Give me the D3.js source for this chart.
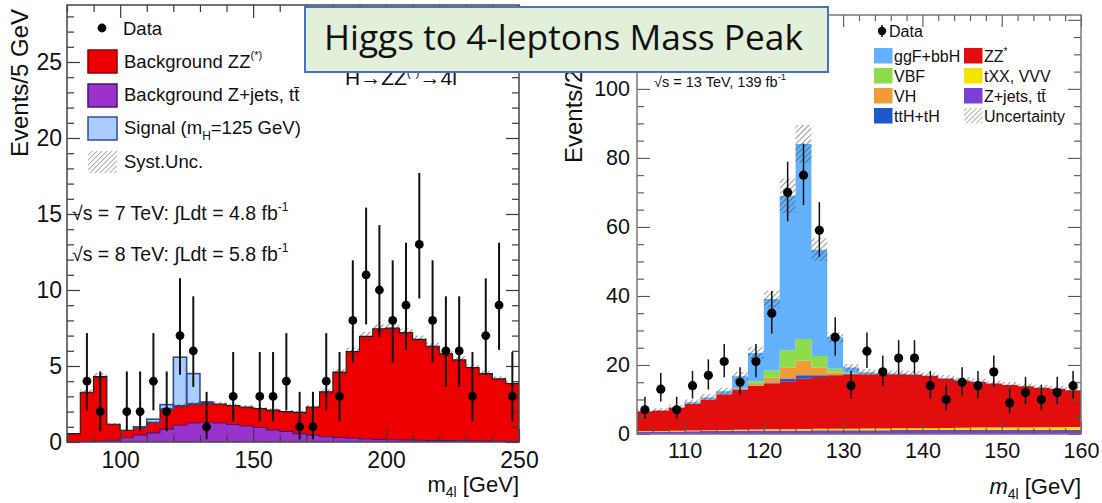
<!DOCTYPE html>
<html><head><meta charset="utf-8">
<script src="https://cdn.jsdelivr.net/npm/d3@7"></script>
<style>html,body{margin:0;padding:0;background:#fff;} svg{display:block;}</style>
</head><body>
<svg id="c" width="1102" height="503"></svg>
<script>
// ---------------- DATA ----------------
// Left panel: 5 GeV bins from 80 to 250
const leftBinLow = d3.range(80, 250, 5);
const leftZjets = [0.02,0.03,0.05,0.12,0.28,0.45,0.6,0.85,1.1,1.25,1.3,1.25,1.15,1.05,0.95,0.8,0.7,0.55,0.45,0.35,0.3,0.25,0.2,0.17,0.15,0.13,0.12,0.1,0.09,0.08,0.07,0.06,0.05,0.05];
const leftZZ = [0.53,3.24,4.25,1.05,0.49,0.5,0.68,1.31,1.28,1.25,1.25,1.25,1.25,1.25,1.25,1.3,1.3,1.4,1.85,2.95,4.3,5.7,6.75,7.28,7.35,7.07,6.63,6.2,5.71,5.32,4.83,4.44,4.1,3.8];
const leftSignal = [0,0,0,0,0,0.05,0.22,0.3,3.2,2.0,0.08,0,0,0,0,0,0,0,0,0,0,0,0,0,0,0,0,0,0,0,0,0,0,0];
const leftUnc = [0.05,0.2,0.25,0.08,0.06,0.07,0.08,0.12,0.13,0.14,0.14,0.14,0.13,0.13,0.12,0.12,0.11,0.11,0.13,0.17,0.22,0.26,0.28,0.28,0.28,0.27,0.26,0.25,0.23,0.22,0.2,0.19,0.18,0.17];
const leftData = [null,4,2,null,2,2,4,2,7,6,1,null,3,null,3,3,4,1,1,4,3,8,11,10,8,9,13,8,6,6,3,7,9,3];
const leftXTicks = [100,150,200,250];
const leftYTicks = [0,5,10,15,20,25];

// Right panel: 2 GeV bins from 104 to 160
const rightBinLow = d3.range(104, 160, 2);
const rightZjets = [0.7,0.7,0.75,0.8,0.85,0.9,0.95,1.0,1.0,1.05,1.05,1.1,1.1,1.1,1.1,1.1,1.15,1.15,1.15,1.15,1.2,1.2,1.2,1.2,1.2,1.2,1.2,1.2];
const rightTXX = [0.15,0.15,0.2,0.2,0.25,0.25,0.3,0.3,0.35,0.35,0.4,0.4,0.45,0.45,0.5,0.5,0.5,0.55,0.55,0.6,0.6,0.65,0.65,0.7,0.7,0.75,0.75,0.8];
const rightZZ = [5.75,5.95,6.65,7.8,8.9,10.35,11.65,12.6,13.25,13.9,14.55,15.0,15.45,15.75,15.7,15.7,15.65,15.5,15.1,14.35,13.7,13.25,12.75,12.3,11.9,11.45,11.15,10.7];
const rightTTH = [0,0,0,0,0,0,0.05,0.1,0.3,0.8,1.0,0.5,0.1,0.05,0,0,0,0,0,0,0,0,0,0,0,0,0,0];
const rightVH = [0,0,0,0,0,0.05,0.1,0.5,1.4,3.1,4.2,2.2,0.7,0.1,0.05,0,0,0,0,0,0,0,0,0,0,0,0,0];
const rightVBF = [0,0,0,0,0,0.05,0.15,0.8,2.1,5.1,6.3,3.4,1.1,0.2,0.05,0,0,0,0,0,0,0,0,0,0,0,0,0];
const rightGGF = [0.05,0.1,0.2,0.4,0.6,0.8,3.5,8.2,20.7,44.7,56.5,30.8,9.1,1.6,0.5,0.3,0.2,0.2,0.15,0.1,0.1,0.1,0.05,0.05,0.05,0.05,0.05,0.05];
const rightUnc = [0.6,0.6,0.7,0.8,0.9,1.0,1.3,1.8,2.5,5.0,5.5,3.3,1.5,1.0,0.9,0.9,0.9,0.9,0.9,0.9,0.85,0.85,0.8,0.8,0.8,0.8,0.8,0.8];
const rightData = [7,13,7,14,17,21,15,21,35,70,75,59,28,14,24,18,22,22,14,10,15,14,18,9,12,10,12,14];
const rightXTicks = [110,120,130,140,150,160];
const rightYTicks = [0,20,40,60,80,100,120];
const rightYLabels = [0,20,40,60,80,100];

// Poisson (Garwood 68%) intervals for small counts
const garwoodLo = [0,0.173,0.708,1.367,2.086,2.840,3.620,4.419,5.232,6.057,6.891,7.734,8.585,9.441];
const garwoodHi = [1.841,3.300,4.638,5.918,7.163,8.382,9.584,10.77,11.95,13.11,14.27,15.42,16.56,17.70];
function errLo(n){ return n < garwoodLo.length ? garwoodLo[n] : n - Math.sqrt(n); }
function errHi(n){ return n < garwoodHi.length ? garwoodHi[n] : n + Math.sqrt(n) + 0.5; }

// ---------------- DRAW ----------------
const FONT = "'Liberation Sans', Arial, Helvetica, sans-serif";
const svg = d3.select("#c").style("font-family", FONT);
svg.append("rect").attr("width",1102).attr("height",503).attr("fill","#fff");

const defs = svg.append("defs");
function hatch(id, color, sw, size){
  const p = defs.append("pattern").attr("id", id).attr("patternUnits","userSpaceOnUse")
    .attr("width", size).attr("height", size).attr("patternTransform","rotate(45)");
  p.append("line").attr("x1",0).attr("y1",0).attr("x2",0).attr("y2",size)
    .attr("stroke", color).attr("stroke-width", sw);
}
hatch("hatchL", "#2a2a2a", 1.1, 4);
hatch("hatchR", "#333", 1.0, 4);
hatch("hatchLeg", "#666", 1.0, 3.5);

function stepPoints(lows, w, s){ // s: array of [y0,y1]
  const pts = [];
  lows.forEach((lo, i) => {
    pts.push({x: lo, y0: s[i][0], y1: s[i][1]});
    pts.push({x: lo + w, y0: s[i][0], y1: s[i][1]});
  });
  return pts;
}

// ---------- LEFT PANEL ----------
const xL = d3.scaleLinear().domain([80, 250]).range([67, 519]);
const yL = d3.scaleLinear().domain([0, 28.75]).range([442, 5]);
const gL = svg.append("g");

const rowsL = leftBinLow.map((lo, i) => ({zjets: leftZjets[i], zz: leftZZ[i], signal: leftSignal[i]}));
const stackL = d3.stack().keys(["zjets","zz","signal"])(rowsL);
const colL = {zjets: "#9a33cc", zz: "#ee0000", signal: "#aaccff"};
const lineColL = {zjets: "#4a1470", zz: "#1a1a1a", signal: "#2c4f94"};
const areaL = d3.area().x(d => xL(d.x)).y0(d => yL(d.y0)).y1(d => yL(d.y1));
const lineL = d3.line().x(d => xL(d.x)).y(d => yL(d.y1));

stackL.forEach(s => {
  const pts = stepPoints(leftBinLow, 5, s.map(d => [d[0], d[1]]));
  gL.append("path").attr("d", areaL(pts)).attr("fill", colL[s.key]);
});
["zjets","zz"].forEach(k => {
  const s = stackL.find(t => t.key === k);
  const pts = stepPoints(leftBinLow, 5, s.map(d => [d[0], d[1]]));
  gL.append("path").attr("d", lineL(pts)).attr("fill","none").attr("stroke", lineColL[k]).attr("stroke-width", 1.1);
});
const sigS = stackL.find(t => t.key === "signal");
leftBinLow.forEach((lo, i) => {
  if (leftSignal[i] > 0.03) {
    gL.append("rect").attr("x", xL(lo)).attr("width", xL(lo+5)-xL(lo))
      .attr("y", yL(sigS[i][1])).attr("height", yL(sigS[i][0]) - yL(sigS[i][1]))
      .attr("fill","none").attr("stroke","#2c4f94").attr("stroke-width",1.6);
  }
});
const bgL = leftBinLow.map((lo,i) => leftZjets[i] + leftZZ[i]);
const bandL = stepPoints(leftBinLow, 5, bgL.map((v,i) => [Math.max(0, v - leftUnc[i]), v + leftUnc[i]]));
gL.append("path").attr("d", areaL(bandL)).attr("fill","url(#hatchL)");

function styleAxis(g, size){
  g.select(".domain").remove();
  g.selectAll(".tick line").attr("stroke","#3a3a3a").attr("stroke-width",1.2);
  g.selectAll(".tick text").attr("font-family", FONT).attr("font-size", size).attr("fill","#111");
}
const minorXL = d3.range(80, 251, 10).filter(v => !leftXTicks.includes(v));
const minorYL = d3.range(0, 29, 1).filter(v => !leftYTicks.includes(v));
gL.append("g").attr("transform","translate(0,442)")
  .call(d3.axisBottom(xL).tickValues(leftXTicks).tickSize(-13).tickPadding(10).tickFormat(d3.format("d")))
  .call(g => styleAxis(g, 23));
gL.append("g").attr("transform","translate(0,442)")
  .call(d3.axisBottom(xL).tickValues(minorXL).tickSize(-7).tickFormat(""))
  .call(g => styleAxis(g, 23));
gL.append("g").attr("transform","translate(0,5)")
  .call(d3.axisTop(xL).tickValues(leftXTicks).tickSize(-13).tickFormat(""))
  .call(g => styleAxis(g, 23));
gL.append("g").attr("transform","translate(0,5)")
  .call(d3.axisTop(xL).tickValues(minorXL).tickSize(-7).tickFormat(""))
  .call(g => styleAxis(g, 23));
gL.append("g").attr("transform","translate(67,0)")
  .call(d3.axisLeft(yL).tickValues(leftYTicks).tickSize(-13).tickPadding(5))
  .call(g => styleAxis(g, 23));
gL.append("g").attr("transform","translate(67,0)")
  .call(d3.axisLeft(yL).tickValues(minorYL).tickSize(-7).tickFormat(""))
  .call(g => styleAxis(g, 23));
gL.append("g").attr("transform","translate(519,0)")
  .call(d3.axisRight(yL).tickValues(leftYTicks).tickSize(-13).tickFormat(""))
  .call(g => styleAxis(g, 23));
gL.append("g").attr("transform","translate(519,0)")
  .call(d3.axisRight(yL).tickValues(minorYL).tickSize(-7).tickFormat(""))
  .call(g => styleAxis(g, 23));
gL.append("rect").attr("x", 67).attr("y", 5).attr("width", 519-67).attr("height", 442-5)
  .attr("fill","none").attr("stroke","#444").attr("stroke-width",1.5);

leftBinLow.forEach((lo, i) => {
  const n = leftData[i];
  if (n === null) return;
  const cx = xL(lo + 2.5);
  gL.append("line").attr("x1", cx).attr("x2", cx).attr("y1", yL(errLo(n))).attr("y2", yL(errHi(n)))
    .attr("stroke","#111").attr("stroke-width",2);
  gL.append("circle").attr("cx", cx).attr("cy", yL(n)).attr("r", 4.4).attr("fill","#000");
});

// left legend
const legL = svg.append("g").attr("font-size", 18.5).attr("fill","#111");
legL.append("circle").attr("cx",102).attr("cy",28).attr("r",4.4).attr("fill","#000");
legL.append("text").attr("x",123).attr("y",35).text("Data");
const legLItems = [
  {y:50, fill:"#ee0000", stroke:"#8a0000"},
  {y:84, fill:"#9a33cc", stroke:"#4a1470"},
  {y:117, fill:"#aaccff", stroke:"#2c4f94"},
];
legLItems.forEach(d => legL.append("rect").attr("x",88).attr("y",d.y).attr("width",29).attr("height",23)
  .attr("fill",d.fill).attr("stroke",d.stroke).attr("stroke-width",1.5));
legL.append("rect").attr("x",88).attr("y",151).attr("width",29).attr("height",22).attr("fill","url(#hatchLeg)");
let t = legL.append("text").attr("x",124).attr("y",68);
t.append("tspan").text("Background ZZ");
t.append("tspan").attr("font-size",11).attr("dy",-9).text("(*)");
legL.append("text").attr("x",124).attr("y",101).text("Background Z+jets, tt\u0304");
t = legL.append("text").attr("x",124).attr("y",134);
t.append("tspan").text("Signal (m");
t.append("tspan").attr("font-size",12).attr("dy",6).text("H");
t.append("tspan").attr("dy",-6).text("=125 GeV)");
legL.append("text").attr("x",124).attr("y",168).text("Syst.Unc.");
[{y:220, txt:"\u221As = 7 TeV: \u222BLdt = 4.8 fb"},{y:261, txt:"\u221As = 8 TeV: \u222BLdt = 5.8 fb"}].forEach(d => {
  const tt = legL.append("text").attr("x",72).attr("y",d.y).attr("font-size",19.5);
  tt.append("tspan").text(d.txt);
  tt.append("tspan").attr("font-size",12).attr("dy",-9).text("-1");
});
t = svg.append("text").attr("x",345).attr("y",85).attr("font-size",21).attr("fill","#111");
t.append("tspan").text("H\u2192ZZ");
t.append("tspan").attr("font-size",12).attr("dy",-9).text("(*)");
t.append("tspan").attr("dy",9).text("\u21924l");

svg.append("text").attr("transform","translate(28,157) rotate(-90)").attr("font-size",24).attr("fill","#111")
  .text("Events/5 GeV");
t = svg.append("text").attr("x",519).attr("y",492).attr("text-anchor","end").attr("font-size",22).attr("fill","#111");
t.append("tspan").text("m");
t.append("tspan").attr("font-size",14).attr("dy",5).text("4l");
t.append("tspan").attr("dy",-5).text(" [GeV]");

// ---------- RIGHT PANEL ----------
const xR = d3.scaleLinear().domain([104, 160]).range([637, 1081]);
const yR = d3.scaleLinear().domain([0, 121.4]).range([434, 15]);
const gR = svg.append("g");
const rowsR = rightBinLow.map((lo,i) => ({zjets: rightZjets[i], txx: rightTXX[i], zz: rightZZ[i],
  tth: rightTTH[i], vh: rightVH[i], vbf: rightVBF[i], ggf: rightGGF[i]}));
const keysR = ["zjets","txx","zz","tth","vh","vbf","ggf"];
const colR = {zjets:"#7b3fd3", txx:"#f0e400", zz:"#e20e0e", tth:"#1f57cc", vh:"#f09a38", vbf:"#8fdc4a", ggf:"#63b1fb"};
const stackR = d3.stack().keys(keysR)(rowsR);
const areaR = d3.area().x(d => xR(d.x)).y0(d => yR(d.y0)).y1(d => yR(d.y1));
stackR.forEach(s => {
  const pts = stepPoints(rightBinLow, 2, s.map(d => [d[0], d[1]]));
  gR.append("path").attr("d", areaR(pts)).attr("fill", colR[s.key]);
});
const totR = rightBinLow.map((lo,i) => keysR.reduce((a,k) => a + rowsR[i][k], 0));
const bandR = stepPoints(rightBinLow, 2, totR.map((v,i) => [Math.max(0, v - rightUnc[i]), v + rightUnc[i]]));
gR.append("path").attr("d", areaR(bandR)).attr("fill","url(#hatchR)");

function styleAxisR(g, size){
  g.select(".domain").remove();
  g.selectAll(".tick line").attr("stroke","#555").attr("stroke-width",1.1);
  g.selectAll(".tick text").attr("font-family", FONT).attr("font-size", size).attr("fill","#111");
}
const minorXR = d3.range(104, 161, 2).filter(v => !rightXTicks.includes(v));
const minorYR = d3.range(0, 121, 5).filter(v => !rightYTicks.includes(v));
gR.append("g").attr("transform","translate(0,434)")
  .call(d3.axisBottom(xR).tickValues(rightXTicks).tickSize(-12).tickPadding(9).tickFormat(d3.format("d")))
  .call(g => styleAxisR(g, 21.5));
gR.append("g").attr("transform","translate(0,434)")
  .call(d3.axisBottom(xR).tickValues(minorXR).tickSize(-6).tickFormat(""))
  .call(g => styleAxisR(g, 21.5));
gR.append("g").attr("transform","translate(0,15)")
  .call(d3.axisTop(xR).tickValues(rightXTicks).tickSize(-12).tickFormat(""))
  .call(g => styleAxisR(g, 21.5));
gR.append("g").attr("transform","translate(0,15)")
  .call(d3.axisTop(xR).tickValues(minorXR).tickSize(-6).tickFormat(""))
  .call(g => styleAxisR(g, 21.5));
gR.append("g").attr("transform","translate(637,0)")
  .call(d3.axisLeft(yR).tickValues(rightYTicks).tickSize(-13).tickPadding(7)
    .tickFormat(v => rightYLabels.includes(v) ? String(v) : ""))
  .call(g => styleAxisR(g, 21.5));
gR.append("g").attr("transform","translate(637,0)")
  .call(d3.axisLeft(yR).tickValues(minorYR).tickSize(-7).tickFormat(""))
  .call(g => styleAxisR(g, 21.5));
gR.append("g").attr("transform","translate(1081,0)")
  .call(d3.axisRight(yR).tickValues(rightYTicks).tickSize(-13).tickFormat(""))
  .call(g => styleAxisR(g, 21.5));
gR.append("g").attr("transform","translate(1081,0)")
  .call(d3.axisRight(yR).tickValues(minorYR).tickSize(-7).tickFormat(""))
  .call(g => styleAxisR(g, 21.5));
gR.append("rect").attr("x",637).attr("y",15).attr("width",1081-637).attr("height",434-15)
  .attr("fill","none").attr("stroke","#777").attr("stroke-width",1.5);

rightBinLow.forEach((lo,i) => {
  const n = rightData[i];
  const cx = xR(lo + 1);
  gR.append("line").attr("x1",cx).attr("x2",cx).attr("y1",yR(errLo(n))).attr("y2",yR(errHi(n)))
    .attr("stroke","#111").attr("stroke-width",1.5);
  gR.append("circle").attr("cx",cx).attr("cy",yR(n)).attr("r",4.6).attr("fill","#000");
});

// right legend
const legR = svg.append("g").attr("font-size",16).attr("fill","#111");
legR.append("line").attr("x1",882).attr("x2",882).attr("y1",25).attr("y2",37).attr("stroke","#000").attr("stroke-width",1.5);
legR.append("circle").attr("cx",882).attr("cy",31).attr("r",4.2).attr("fill","#000");
legR.append("text").attr("x",889).attr("y",37).text("Data");
const legRItems = [
  {x:874, y:48, c:colR.ggf, label:"ggF+bbH"},
  {x:964, y:48, c:colR.zz, label:"ZZ", sup:"*"},
  {x:874, y:68, c:colR.vbf, label:"VBF"},
  {x:964, y:68, c:colR.txx, label:"tXX, VVV"},
  {x:874, y:88, c:colR.vh, label:"VH"},
  {x:964, y:88, c:colR.zjets, label:"Z+jets, tt\u0304"},
  {x:874, y:108, c:colR.tth, label:"ttH+tH"},
  {x:964, y:108, c:"url(#hatchLeg)", label:"Uncertainty"},
];
legRItems.forEach(d => {
  legR.append("rect").attr("x",d.x).attr("y",d.y).attr("width",18.5).attr("height",15.5).attr("fill",d.c);
  const tx = legR.append("text").attr("x",d.x+20).attr("y",d.y+14);
  tx.append("tspan").text(d.label);
  if (d.sup) tx.append("tspan").attr("font-size",10).attr("dy",-7).text(d.sup);
});
t = svg.append("text").attr("x",654).attr("y",87).attr("font-size",14.5).attr("fill","#111");
t.append("tspan").text("\u221As = 13 TeV, 139 fb");
t.append("tspan").attr("font-size",9.5).attr("dy",-7).text("-1");

svg.append("text").attr("transform","translate(582,163) rotate(-90)").attr("font-size",24).attr("fill","#111")
  .text("Events/2 GeV");
t = svg.append("text").attr("x",1081).attr("y",494).attr("text-anchor","end").attr("font-size",22).attr("fill","#111");
t.append("tspan").attr("font-style","italic").text("m");
t.append("tspan").attr("font-size",14).attr("dy",5).text("4l");
t.append("tspan").attr("dy",-5).text(" [GeV]");

// ---------- TITLE BOX ----------
svg.append("rect").attr("x",305).attr("y",7).attr("width",523).attr("height",65)
  .attr("fill","#e2efd9").attr("stroke","#4472c4").attr("stroke-width",2);
svg.append("text").attr("x",324).attr("y",50).attr("font-family","'Open Sans', 'Liberation Sans', sans-serif")
  .attr("font-size",34).attr("fill","#111").attr("textLength",479).attr("lengthAdjust","spacingAndGlyphs")
  .text("Higgs to 4-leptons Mass Peak");
</script>
</body></html>
